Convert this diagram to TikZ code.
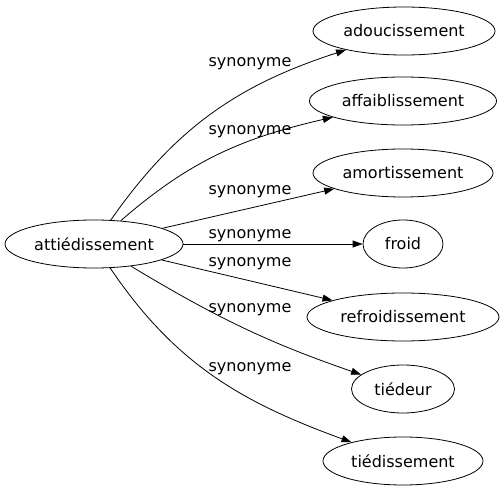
\documentclass[tikz,border=0pt]{standalone}
\usepackage{fontspec}
\setmainfont{DejaVu Sans}
\usetikzlibrary{shapes.geometric,arrows.meta}
\begin{document}
\begin{tikzpicture}[x=1pt,y=1pt,
   mot/.style={draw,ellipse,line width=0.8pt,inner sep=0pt,minimum height=48pt,font=\fontsize{16}{19}\selectfont},
   lien/.style={line width=0.8pt,-{Triangle[length=10pt,width=7pt]}},
   syn/.style={font=\fontsize{16}{19}\selectfont}]
   \useasboundingbox (0,0) rectangle (504,491);
   \node [mot,minimum width=178pt] (att) at (94,247) {attiédissement};
   \node [mot,minimum width=182pt] (adou) at (404,460) {adoucissement};
   \node [mot,minimum width=187pt] (affa) at (403,390) {affaiblissement};
   \node [mot,minimum width=180pt] (amor) at (403,318) {amortissement};
   \node [mot,minimum width=80pt] (froid) at (403,247) {froid};
   \node [mot,minimum width=192pt] (refr) at (403,174) {refroidissement};
   \node [mot,minimum width=103pt] (tied) at (403,102) {tiédeur};
   \node [mot,minimum width=160pt] (tdis) at (403,30) {tiédissement};
   \draw [lien] (att) to[out=55,in=198] (adou);
   \draw [lien] (att) to[out=41,in=193] (affa);
   \draw [lien] (att) -- (amor);
   \draw [lien] (att) -- (froid);
   \draw [lien] (att) -- (refr);
   \draw [lien] (att) to[out=-31,in=161] (tied);
   \draw [lien] (att) to[out=-56,in=160] (tdis);
   \node [syn] (s1) at (250,427) {synonyme};
   \node [syn] (s2) at (250,359) {synonyme};
   \node [syn] (s3) at (250,299) {synonyme};
   \node [syn] (s4) at (250,255) {synonyme};
   \node [syn] (s5) at (250,227) {synonyme};
   \node [syn] (s6) at (250,181) {synonyme};
   \node [syn] (s7) at (250,122) {synonyme};
  \end{tikzpicture}
\end{document}
